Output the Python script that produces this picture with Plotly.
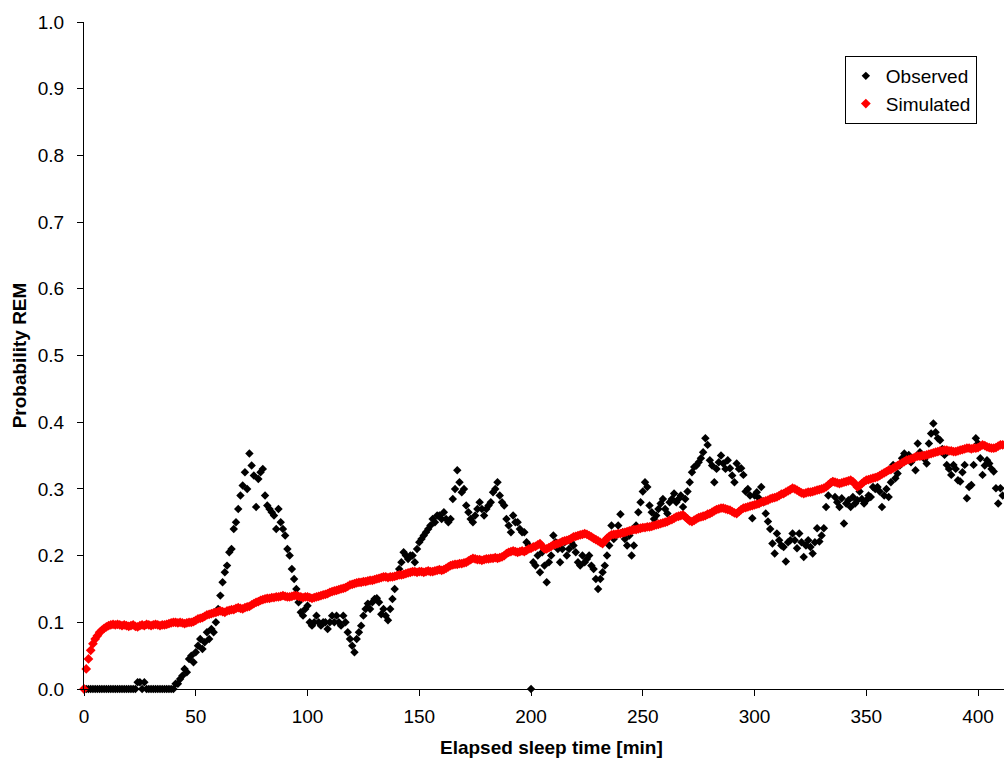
import plotly.graph_objects as go

# Probability of REM sleep per minute of elapsed sleep time (minute index = list position)
observed = [
    0, 0, 0, 0, 0, 0, 0, 0, 0, 0,
    0, 0, 0, 0, 0, 0, 0, 0, 0, 0,
    0, 0, 0, 0, 0.01, 0.01, 0, 0.01, 0, 0,
    0, 0, 0, 0, 0, 0, 0, 0, 0, 0,
    0.0, 0.008, 0.008, 0.015, 0.02, 0.03, 0.025, 0.045, 0.05, 0.04,
    0.055, 0.065, 0.075, 0.06, 0.07, 0.085, 0.075, 0.09, 0.085, 0.1,
    0.12, 0.14, 0.16, 0.175, 0.185, 0.205, 0.21, 0.24, 0.25, 0.27,
    0.29, 0.305, 0.325, 0.3, 0.353, 0.335, 0.32, 0.273, 0.315, 0.325,
    0.33, 0.29, 0.275, 0.27, 0.265, 0.26, 0.24, 0.27, 0.25, 0.24,
    0.23, 0.21, 0.2, 0.18, 0.165, 0.15, 0.13, 0.115, 0.11, 0.12,
    0.125, 0.1, 0.095, 0.1, 0.11, 0.1, 0.095, 0.1, 0.1, 0.09,
    0.1, 0.11, 0.1, 0.11, 0.1, 0.095, 0.11, 0.1, 0.085, 0.075,
    0.065, 0.055, 0.075, 0.085, 0.095, 0.11, 0.12, 0.128, 0.12, 0.13,
    0.135, 0.136, 0.13, 0.112, 0.12, 0.11, 0.103, 0.12, 0.135, 0.15,
    0.17, 0.18, 0.19, 0.205, 0.2, 0.195, 0.2, 0.2, 0.19, 0.21,
    0.22, 0.225, 0.23, 0.235, 0.24, 0.245, 0.255, 0.25, 0.26, 0.26,
    0.255, 0.265, 0.255, 0.25, 0.255, 0.285, 0.3, 0.328, 0.31, 0.295,
    0.3, 0.275, 0.265, 0.255, 0.25, 0.26, 0.27, 0.28, 0.27, 0.26,
    0.27, 0.275, 0.28, 0.295, 0.3, 0.31, 0.29, 0.28, 0.275, 0.255,
    0.245, 0.235, 0.26, 0.25, 0.25, 0.24, 0.235, 0.235, 0.22, 0.215,
    0.0, 0.19, 0.185, 0.2, 0.175, 0.205, 0.185, 0.16, 0.19, 0.2,
    0.23, 0.22, 0.21, 0.19, 0.21, 0.22, 0.2, 0.21, 0.22, 0.215,
    0.205, 0.19, 0.185, 0.2, 0.19, 0.195, 0.2, 0.185, 0.18, 0.165,
    0.15, 0.165, 0.175, 0.185, 0.2, 0.215, 0.245, 0.225, 0.23, 0.245,
    0.262, 0.235, 0.225, 0.215, 0.23, 0.2, 0.215, 0.245, 0.265, 0.28,
    0.296, 0.31, 0.303, 0.275, 0.265, 0.255, 0.26, 0.27, 0.278, 0.285,
    0.27, 0.263, 0.28, 0.285, 0.293, 0.28, 0.285, 0.29, 0.273, 0.285,
    0.296, 0.31, 0.325, 0.333, 0.335, 0.34, 0.346, 0.355, 0.376, 0.366,
    0.343, 0.335, 0.31, 0.33, 0.34, 0.35, 0.338, 0.33, 0.343, 0.331,
    0.32, 0.31, 0.338, 0.33, 0.331, 0.321, 0.296, 0.3, 0.29, 0.256,
    0.29, 0.295, 0.286, 0.303, 0.28, 0.263, 0.251, 0.24, 0.218, 0.203,
    0.233, 0.223, 0.215, 0.213, 0.191, 0.22, 0.223, 0.233, 0.223, 0.211,
    0.233, 0.22, 0.198, 0.215, 0.223, 0.213, 0.203, 0.22, 0.241, 0.221,
    0.23, 0.241, 0.273, 0.29, 0.308, 0.311, 0.288, 0.28, 0.273, 0.286,
    0.248, 0.278, 0.283, 0.273, 0.288, 0.278, 0.283, 0.296, 0.285, 0.278,
    0.283, 0.29, 0.288, 0.303, 0.3, 0.303, 0.296, 0.273, 0.29, 0.3,
    0.288, 0.31, 0.336, 0.316, 0.323, 0.335, 0.346, 0.353, 0.345, 0.351,
    0.34, 0.346, 0.328, 0.368, 0.355, 0.351, 0.345, 0.338, 0.368, 0.383,
    0.398, 0.385, 0.376, 0.373, 0.36, 0.351, 0.336, 0.33, 0.321, 0.336,
    0.33, 0.313, 0.311, 0.325, 0.336, 0.286, 0.303, 0.306, 0.336, 0.376,
    0.368, 0.346, 0.321, 0.335, 0.343, 0.338, 0.33, 0.326, 0.301, 0.278,
    0.301, 0.29,
]

simulated = [
    0.0, 0.03, 0.045, 0.058, 0.068, 0.075, 0.08, 0.085, 0.088, 0.091,
    0.093, 0.095, 0.096, 0.097, 0.096, 0.097, 0.096, 0.095, 0.096, 0.095,
    0.094, 0.095, 0.096, 0.094, 0.093, 0.095, 0.096, 0.095, 0.097, 0.096,
    0.095, 0.096, 0.097, 0.096, 0.095, 0.096, 0.096, 0.097, 0.098, 0.099,
    0.1, 0.1, 0.099, 0.1, 0.099, 0.098, 0.099, 0.1, 0.1, 0.101,
    0.103, 0.105, 0.106, 0.107, 0.109, 0.111, 0.112, 0.113, 0.114, 0.115,
    0.116, 0.117, 0.116, 0.115, 0.117, 0.118, 0.119, 0.119, 0.121, 0.122,
    0.121, 0.12, 0.122, 0.123, 0.124, 0.126, 0.128, 0.13, 0.131, 0.133,
    0.134, 0.135, 0.136, 0.136, 0.137, 0.137, 0.138, 0.138, 0.139, 0.14,
    0.139, 0.138, 0.138, 0.139, 0.14, 0.14, 0.139, 0.138, 0.137, 0.138,
    0.138, 0.137, 0.136, 0.137, 0.138, 0.139, 0.14, 0.141, 0.142, 0.143,
    0.145, 0.146, 0.147, 0.148, 0.149, 0.15, 0.151, 0.152, 0.154, 0.156,
    0.157, 0.158, 0.159, 0.16, 0.16, 0.161, 0.161, 0.162, 0.163, 0.163,
    0.164, 0.165, 0.166, 0.167, 0.168, 0.168, 0.167, 0.168, 0.168, 0.169,
    0.17, 0.171, 0.171, 0.172, 0.173, 0.174, 0.175, 0.176, 0.176, 0.175,
    0.176, 0.176, 0.175, 0.176, 0.177, 0.176, 0.176, 0.177, 0.178, 0.179,
    0.178, 0.179, 0.181, 0.183, 0.185, 0.186, 0.187, 0.187, 0.188, 0.188,
    0.189, 0.19, 0.192, 0.194, 0.196, 0.195, 0.194, 0.194, 0.193, 0.194,
    0.195, 0.195, 0.196, 0.196, 0.197, 0.196, 0.197, 0.198, 0.2, 0.203,
    0.205, 0.206, 0.207, 0.206, 0.205, 0.206, 0.207, 0.206, 0.208, 0.21,
    0.211, 0.213, 0.214, 0.216, 0.218, 0.214, 0.21, 0.21, 0.212, 0.214,
    0.216, 0.217, 0.218, 0.219, 0.221, 0.222, 0.223, 0.224, 0.226, 0.228,
    0.229, 0.23, 0.231, 0.232, 0.233, 0.232, 0.23, 0.228, 0.226, 0.224,
    0.222, 0.22, 0.218, 0.222, 0.226, 0.229, 0.231, 0.232, 0.232, 0.233,
    0.233, 0.234, 0.235, 0.236, 0.237, 0.238, 0.239, 0.239, 0.24, 0.241,
    0.242, 0.242, 0.243, 0.243, 0.244, 0.245, 0.246, 0.247, 0.248, 0.249,
    0.25, 0.251, 0.253, 0.254, 0.256, 0.258, 0.259, 0.26, 0.261, 0.258,
    0.255, 0.252, 0.251, 0.253, 0.255, 0.257, 0.258, 0.259, 0.26, 0.262,
    0.263, 0.265, 0.267, 0.269, 0.27, 0.271, 0.271, 0.27, 0.269, 0.268,
    0.266, 0.264, 0.263, 0.266, 0.269, 0.271, 0.272, 0.273, 0.274, 0.275,
    0.276, 0.277, 0.278, 0.28, 0.281, 0.282, 0.283, 0.285, 0.286, 0.287,
    0.288, 0.29, 0.292, 0.293, 0.295, 0.297, 0.299, 0.301, 0.3, 0.298,
    0.296, 0.294, 0.293, 0.294, 0.295, 0.295, 0.296, 0.297, 0.298, 0.299,
    0.3, 0.301, 0.303, 0.306, 0.309, 0.311, 0.31, 0.309, 0.308, 0.309,
    0.31, 0.311, 0.312, 0.313, 0.311, 0.307, 0.303, 0.305, 0.308, 0.311,
    0.313, 0.314, 0.315, 0.316, 0.317, 0.318, 0.32, 0.322, 0.324, 0.326,
    0.328, 0.329, 0.331, 0.333, 0.335, 0.337, 0.339, 0.341, 0.343, 0.344,
    0.345, 0.346, 0.348, 0.349, 0.349, 0.35, 0.35, 0.351, 0.352, 0.353,
    0.354, 0.355, 0.356, 0.357, 0.357, 0.358, 0.358, 0.357, 0.357, 0.356,
    0.356, 0.357, 0.358, 0.359, 0.36, 0.361, 0.361, 0.36, 0.361, 0.361,
    0.362, 0.364, 0.366, 0.365, 0.363, 0.362, 0.361, 0.361, 0.362, 0.364,
    0.366, 0.366,
]

minutes_obs = list(range(len(observed)))
minutes_sim = list(range(len(simulated)))

x_ticks = [0, 50, 100, 150, 200, 250, 300, 350, 400]
y_ticks = [0.0, 0.1, 0.2, 0.3, 0.4, 0.5, 0.6, 0.7, 0.8, 0.9, 1.0]

font_family = "Liberation Sans, Arial, sans-serif"
text_size = 19

fig = go.Figure()
fig.add_trace(go.Scatter(
    x=minutes_obs, y=observed, mode="markers", name="Observed",
    marker=dict(symbol="diamond", size=6.5, color="black", line=dict(width=0)),
    cliponaxis=False,
))
fig.add_trace(go.Scatter(
    x=minutes_sim, y=simulated, mode="markers", name="Simulated",
    marker=dict(symbol="diamond", size=7.5, color="#ff0000", line=dict(width=0)),
    cliponaxis=False,
))

axis_common = dict(
    showline=True, linecolor="black", linewidth=1,
    ticks="outside", ticklen=6, tickcolor="black", tickwidth=1,
    showgrid=False, zeroline=False,
    tickfont=dict(family=font_family, size=text_size, color="black"),
)

fig.update_xaxes(range=[0, 411.6], tickvals=x_ticks, ticklabelstandoff=4, **axis_common)
fig.update_yaxes(
    range=[0, 1.0], tickvals=y_ticks, tickformat=".1f", ticklabelstandoff=9,
    title=dict(text="<b>Probability REM</b>",
               font=dict(family=font_family, size=text_size, color="black"), standoff=6),
    **axis_common,
)

# x-axis title placed as an annotation below the tick labels
fig.add_annotation(
    text="<b>Elapsed sleep time [min]</b>", xref="paper", yref="paper",
    x=0.508, y=0, xanchor="center", yanchor="middle", yshift=-58,
    showarrow=False, font=dict(family=font_family, size=text_size, color="black"),
)

fig.update_layout(
    width=1004, height=764,
    margin=dict(l=84, r=0, t=22, b=75),
    paper_bgcolor="white", plot_bgcolor="white",
    showlegend=True,
    legend=dict(
        x=0.827, y=0.949, xanchor="left", yanchor="top",
        bgcolor="white", bordercolor="black", borderwidth=1,
        font=dict(family=font_family, size=text_size, color="black"),
        itemsizing="trace",
    ),
)

fig.write_html("out.html")
